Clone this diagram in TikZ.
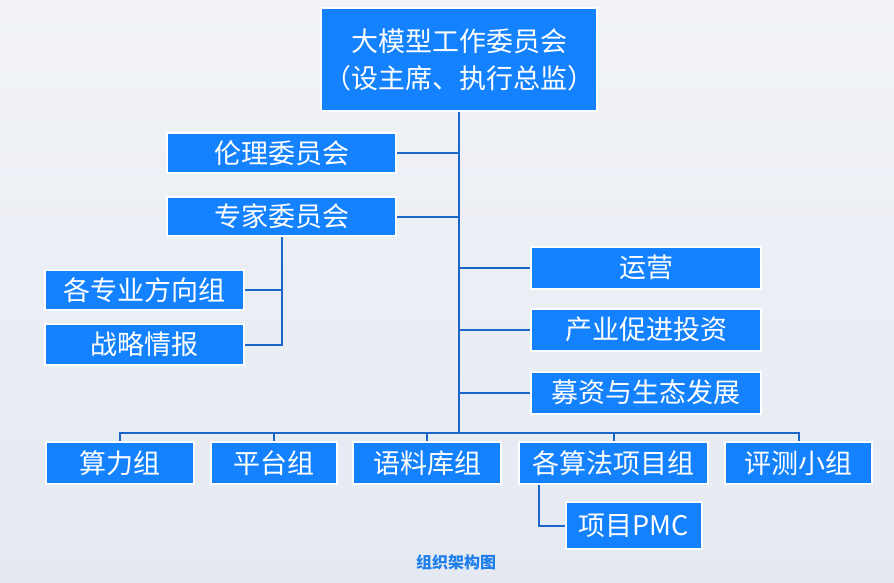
\documentclass[tikz,border=0pt]{standalone}
\usepackage{fontspec}
\setmainfont{Noto Sans CJK SC}
\usetikzlibrary{positioning}
\definecolor{boxblue}{HTML}{1482FF}
\definecolor{linkblue}{HTML}{1A67C9}
\definecolor{bgtop}{HTML}{F1F3F7}
\definecolor{bgbot}{HTML}{E5E9F2}
\definecolor{capblue}{HTML}{1E7FEA}
\begin{document}
\begin{tikzpicture}[x=1pt, y=-1pt,
  unit/.style={draw=white, line width=2pt, fill=boxblue, text=white, inner sep=0pt,
    font=\fontsize{27}{37}\selectfont, minimum height=42pt},
  link/.style={draw=linkblue, line width=2pt}]
\shade[top color=bgtop, bottom color=bgbot] (0,0) rectangle (894,582);
\useasboundingbox (0,0) rectangle (894,582);
\node[unit, minimum width=276pt, minimum height=103pt, align=center] (top) at (459, 59.5) {大模型工作委员会\\（设主席、执行总监）};
\node[unit, minimum width=229pt, minimum height=40pt] (lunli) at (281.5, 153) {伦理委员会};
\node[unit, minimum width=229pt, minimum height=39pt] (zhuanjia) at (281.5, 216.5) {专家委员会};
\node[unit, minimum width=199pt, minimum height=40pt] (fangxiang) at (144.5, 290) {各专业方向组};
\node[unit, minimum width=199pt, minimum height=41pt] (zhanlue) at (144.5, 344.5) {战略情报};
\node[unit, minimum width=230pt] (yunying) at (646, 267.5) {运营};
\node[unit, minimum width=230pt] (chanye) at (646, 329.5) {产业促进投资};
\node[unit, minimum width=230pt] (muzi) at (646, 392.5) {募资与生态发展};
\node[unit, minimum width=148pt] (suanli) at (120, 463) {算力组};
\node[unit, minimum width=126pt] (pingtai) at (274, 463) {平台组};
\node[unit, minimum width=148pt] (yuliao) at (427, 463) {语料库组};
\node[unit, minimum width=189pt] (suanfa) at (613.5, 463) {各算法项目组};
\node[unit, minimum width=147pt] (pingce) at (798.5, 463) {评测小组};
\node[unit, minimum width=136pt, minimum height=47pt] (pmc) at (634, 525.5) {项目PMC};
\node[text=capblue, font=\fontsize{16}{18}\selectfont\bfseries] (caption) at (456, 562) {组织架构图};
\coordinate (bus) at (459, 433);
\draw[link] (top.south) -- (bus);
\draw[link] (lunli.east) -- (lunli.east -| top.south);
\draw[link] (zhuanjia.east) -- (zhuanjia.east -| top.south);
\draw[link] (yunying.west) -- (yunying.west -| top.south);
\draw[link] (chanye.west) -- (chanye.west -| top.south);
\draw[link] (muzi.west) -- (muzi.west -| top.south);
\draw[link] (zhuanjia.south) |- (zhanlue.east);
\draw[link] (fangxiang.east) -- (fangxiang.east -| zhuanjia.south);
\draw[link] (suanli.north) |- (bus) -| (pingce.north);
\draw[link] (pingtai.north) -- (pingtai.north |- bus);
\draw[link] (yuliao.north) -- (yuliao.north |- bus);
\draw[link] (suanfa.north) -- (suanfa.north |- bus);
\draw[link] ([xshift=21pt]suanfa.south west) |- (pmc.west);
\end{tikzpicture}
\end{document}
